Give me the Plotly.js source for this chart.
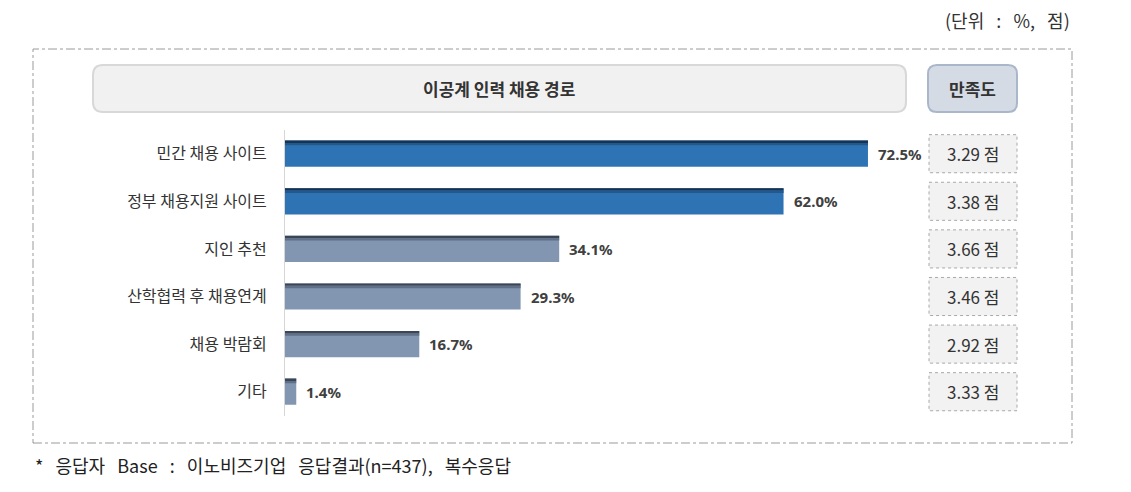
<!DOCTYPE html>
<html>
<head>
<meta charset="utf-8">
<script src="https://cdn.plot.ly/plotly-3.0.1.min.js"></script>
<style>html,body{margin:0;padding:0;background:#fff;}#chart{width:1131px;height:492px;}</style>
</head>
<body>
<div id="chart"></div>
<script>
// ---- data ----
const categories = ["민간 채용 사이트", "정부 채용지원 사이트", "지인 추천", "산학협력 후 채용연계", "채용 박람회", "기타"];
const shares = [72.5, 62.0, 34.1, 29.3, 16.7, 1.4];
const satisfaction = [3.29, 3.38, 3.66, 3.46, 2.92, 3.33];
const highlighted = [true, true, false, false, false, false];
const chartTitle = "이공계 인력 채용 경로";
const satisfactionTitle = "만족도";
const unitNote = "(단위 : %, 점)";
const footNote = "* 응답자 Base : 이노비즈기업 응답결과(n=437), 복수응답";

// ---- helpers (pixel -> paper) ----
const W = 1131, H = 492;
const px = x => x / W;
const py = y => 1 - y / H;
const wide = (s, n) => s.split(' ').join('&nbsp;'.repeat(n));
function roundRect(x0, y0, x1, y1, r) {
  const rx = r / W, ry = r / H;
  const X0 = px(x0), X1 = px(x1), Y0 = py(y0), Y1 = py(y1);
  return `M ${X0 + rx} ${Y0} L ${X1 - rx} ${Y0} Q ${X1} ${Y0} ${X1} ${Y0 - ry} ` +
         `L ${X1} ${Y1 + ry} Q ${X1} ${Y1} ${X1 - rx} ${Y1} L ${X0 + rx} ${Y1} ` +
         `Q ${X0} ${Y1} ${X0} ${Y1 + ry} L ${X0} ${Y0 - ry} Q ${X0} ${Y0} ${X0 + rx} ${Y0} Z`;
}

const KR = '"Noto Sans CJK KR", "Noto Sans", sans-serif';
const mainColors = highlighted.map(h => h ? '#2e74b5' : '#8296b1');
const darkColors = highlighted.map(h => h ? '#173352' : '#3a4658');
const midColors = highlighted.map(h => h ? '#24578a' : '#5f6f86');

const traces = [
  { type: 'bar', orientation: 'h', y: categories, x: shares, width: 0.55,
    marker: { color: mainColors, line: { width: 0 } }, hoverinfo: 'skip', showlegend: false },
  { type: 'bar', orientation: 'h', y: categories, x: shares, width: 0.05, offset: -0.275,
    marker: { color: darkColors, line: { width: 0 } }, hoverinfo: 'skip', showlegend: false },
  { type: 'bar', orientation: 'h', y: categories, x: shares, width: 0.05, offset: -0.225,
    marker: { color: midColors, line: { width: 0 } }, hoverinfo: 'skip', showlegend: false }
];

const shapes = [
  { type: 'rect', xref: 'paper', yref: 'paper', x0: px(33), x1: px(1072), y0: py(443), y1: py(49),
    line: { color: '#9a9a9a', width: 1, dash: 'dashdot' }, fillcolor: 'rgba(0,0,0,0)', layer: 'below' },
  { type: 'path', xref: 'paper', yref: 'paper', path: roundRect(93, 65, 906, 112, 10),
    fillcolor: '#f1f1f1', line: { color: '#d8d8d8', width: 2 }, layer: 'below' },
  { type: 'path', xref: 'paper', yref: 'paper', path: roundRect(928, 65, 1017, 112, 9),
    fillcolor: '#d5dbe5', line: { color: '#aab7ca', width: 2 }, layer: 'below' }
];
categories.forEach((c, i) => {
  shapes.push({ type: 'rect', xref: 'paper', yref: 'y', x0: px(929), x1: px(1017), y0: i - 0.4, y1: i + 0.4,
    fillcolor: '#f2f2f2', line: { color: '#a8a8a8', width: 1, dash: 'dot' }, layer: 'below' });
});

const annotations = [
  { xref: 'paper', yref: 'paper', x: px(499), y: py(88.5), text: '<b>' + chartTitle + '</b>', showarrow: false,
    xanchor: 'center', yanchor: 'middle', font: { family: KR, size: 17, color: '#333' } },
  { xref: 'paper', yref: 'paper', x: px(972.5), y: py(88.5), text: '<b>' + satisfactionTitle + '</b>', showarrow: false,
    xanchor: 'center', yanchor: 'middle', font: { family: KR, size: 17, color: '#333' } },
  { xref: 'paper', yref: 'paper', x: px(1072), y: py(20), text: wide(unitNote, 3), showarrow: false,
    xanchor: 'right', yanchor: 'middle', font: { family: KR, size: 18, color: '#333' } },
  { xref: 'paper', yref: 'paper', x: px(33), y: py(465), text: wide(footNote, 3), showarrow: false,
    xanchor: 'left', yanchor: 'middle', font: { family: KR, size: 18, color: '#222' } }
];
categories.forEach((c, i) => {
  annotations.push({ xref: 'x', yref: 'y', x: shares[i], y: c, text: '<b>' + shares[i].toFixed(1) + '%</b>',
    showarrow: false, xanchor: 'left', yanchor: 'middle', xshift: 8,
    font: { family: '"Noto Sans", sans-serif', size: 15, color: '#404040' } });
  annotations.push({ xref: 'paper', yref: 'y', x: px(973), y: c, text: satisfaction[i].toFixed(2) + ' 점',
    showarrow: false, xanchor: 'center', yanchor: 'middle',
    font: { family: KR, size: 17, color: '#333' } });
});

const layout = {
  width: W, height: H,
  margin: { l: 0, r: 0, t: 0, b: 0 },
  paper_bgcolor: '#fff', plot_bgcolor: 'rgba(0,0,0,0)',
  barmode: 'overlay',
  showlegend: false,
  xaxis: { domain: [285 / W, 1089.1 / W], range: [0, 100], showgrid: false, zeroline: false,
           showline: false, showticklabels: false, fixedrange: true },
  yaxis: { domain: [py(415.5), py(129.9)], type: 'category', autorange: 'reversed', range: [5.5, -0.5],
           showgrid: false, zeroline: false, showline: true, linecolor: '#d6d6d6', linewidth: 1,
           ticks: '', ticklabelstandoff: 14, tickfont: { family: KR, size: 16, color: '#333' }, fixedrange: true },
  shapes: shapes,
  annotations: annotations
};

Plotly.newPlot('chart', traces, layout, { displayModeBar: false, staticPlot: true });
</script>
</body>
</html>
